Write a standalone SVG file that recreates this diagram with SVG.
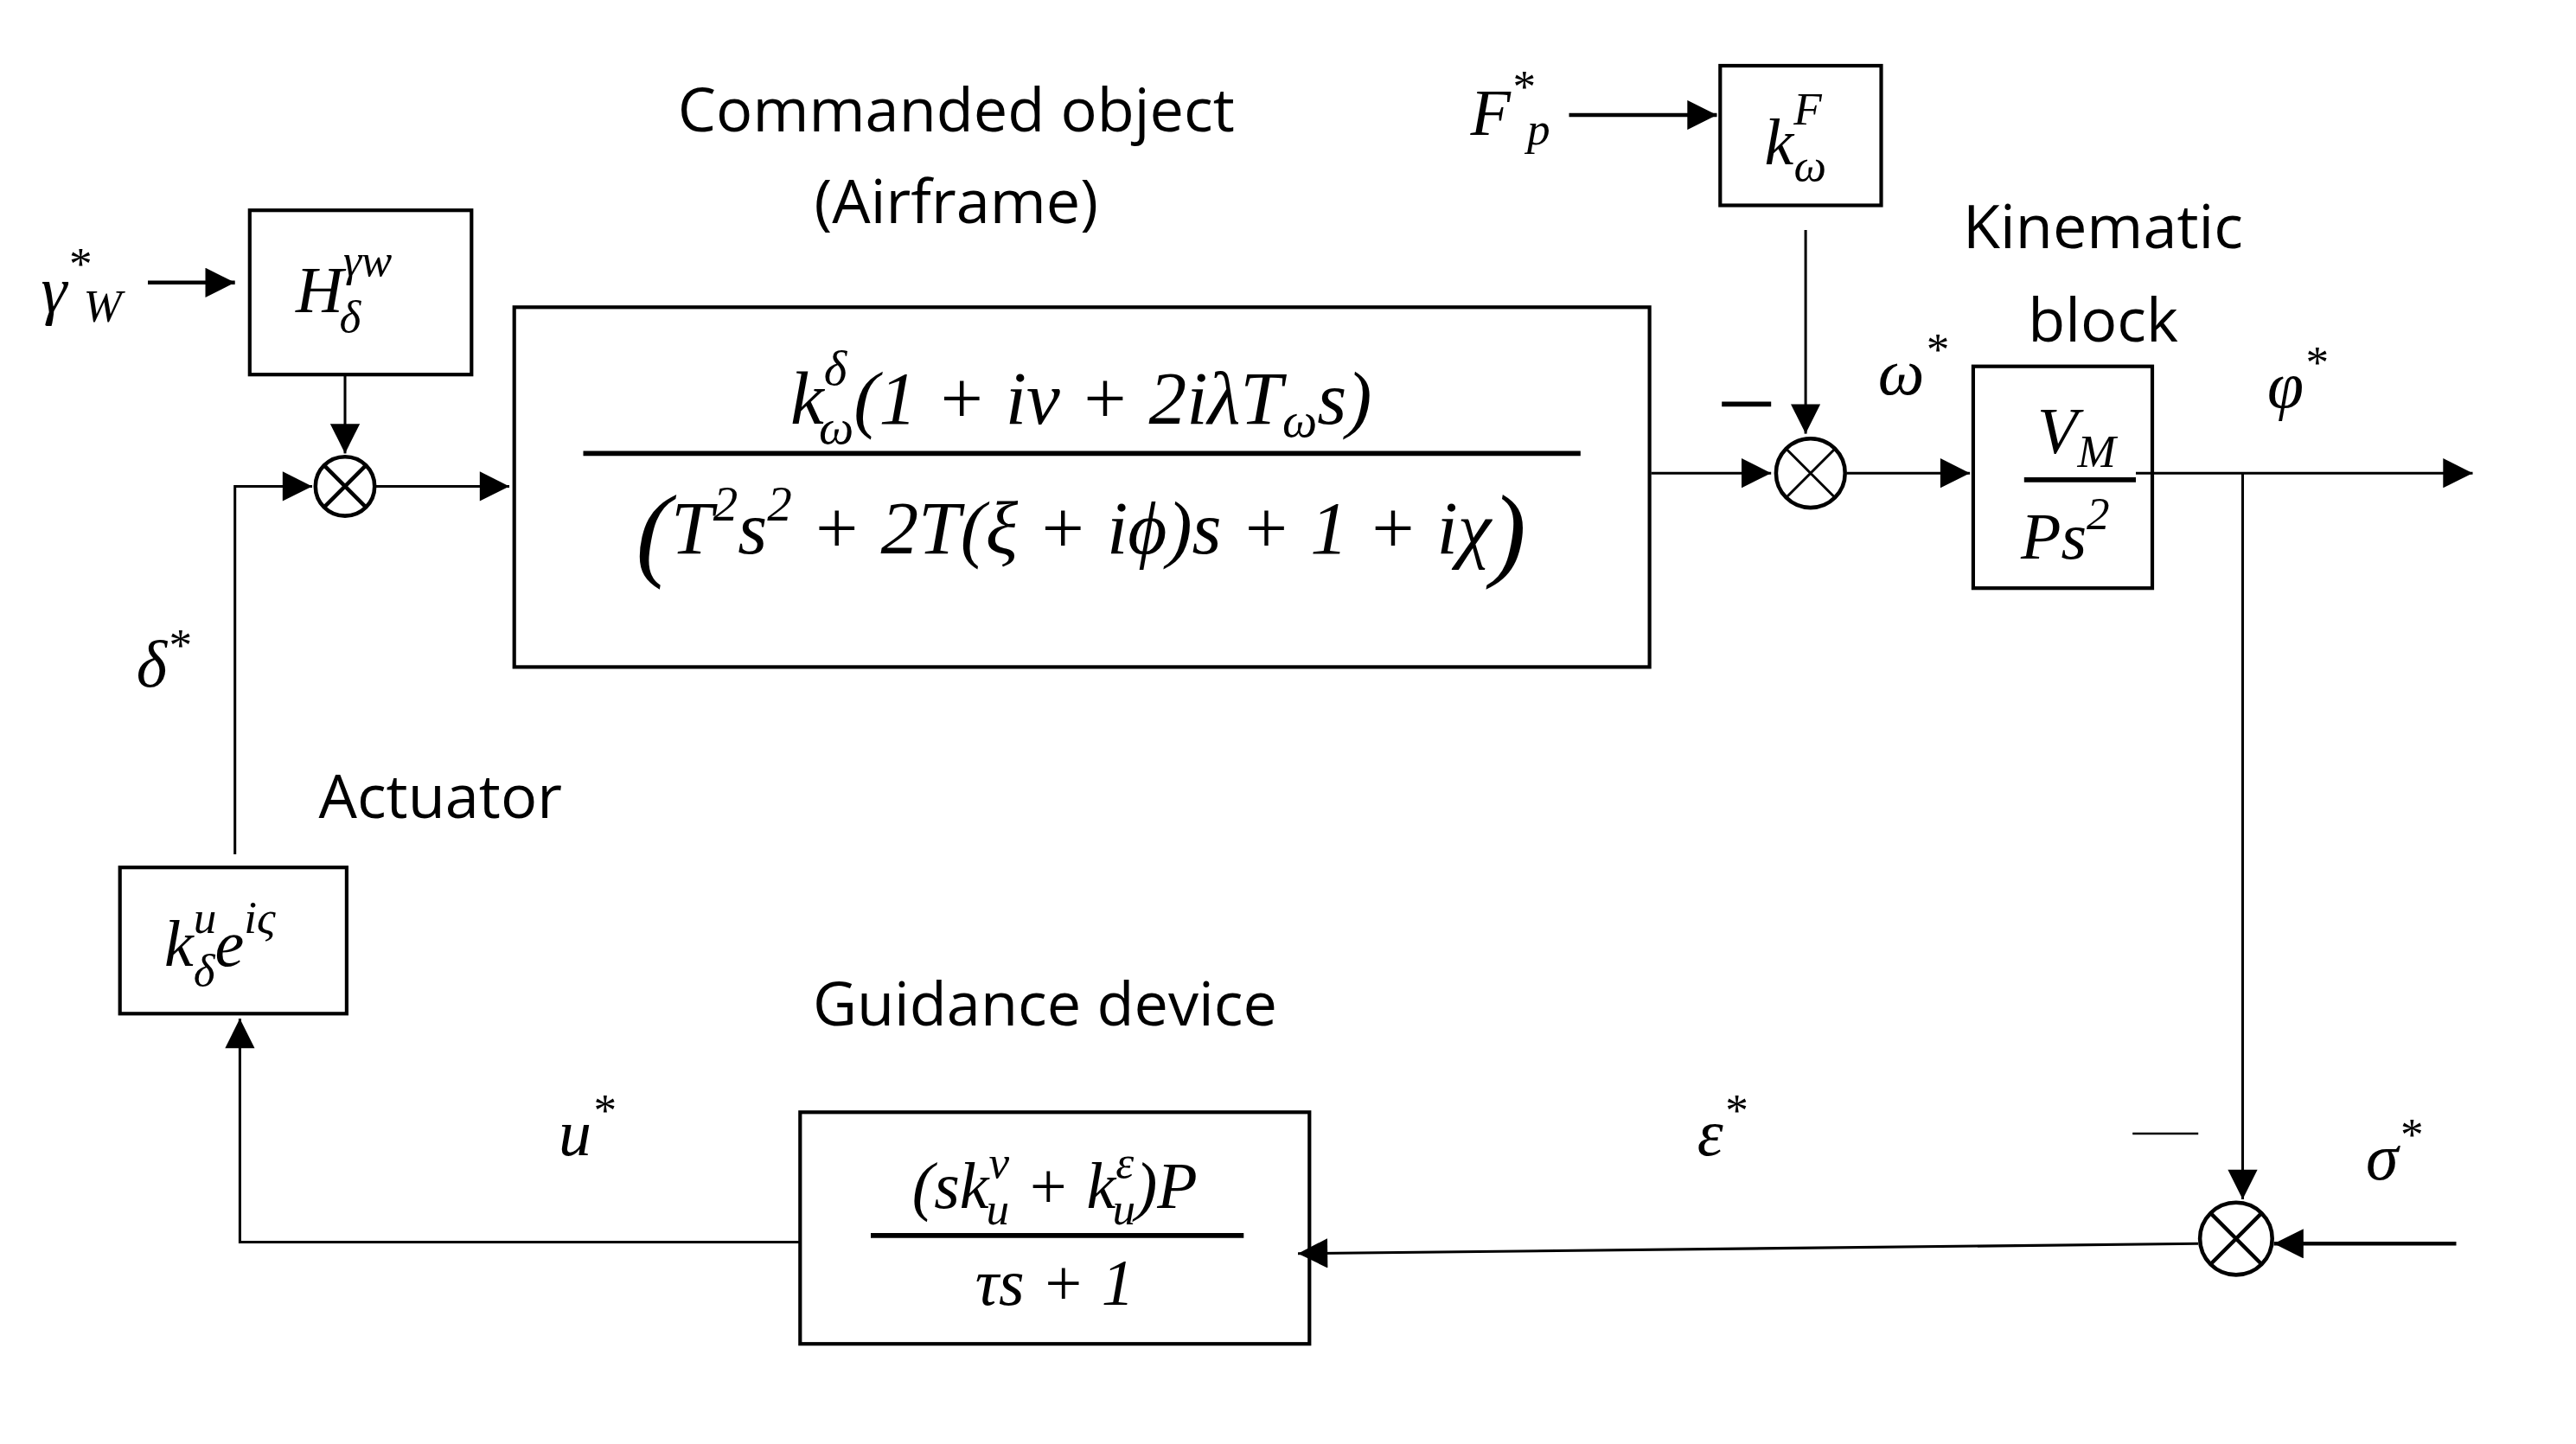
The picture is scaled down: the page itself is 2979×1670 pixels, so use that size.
<svg xmlns="http://www.w3.org/2000/svg" width="2979" height="1670" viewBox="0 0 2979 1670">
<style>
.box{fill:none;stroke:#000;stroke-width:2.2}
.ln{fill:none;stroke:#000;stroke-width:1.6}
.lt{fill:none;stroke:#000;stroke-width:2.4}
.m{font-family:"Liberation Serif",serif;font-style:italic;fill:#000}
.t{font-family:"Open Sans","Liberation Sans",sans-serif;fill:#000;font-size:37px}
.sm{font-size:28px}
.sum{fill:#fff;stroke:#000;stroke-width:2.4}
</style>
<defs>
<marker id="a" viewBox="0 0 10 10" refX="10" refY="5" markerWidth="20" markerHeight="18" markerUnits="userSpaceOnUse" orient="auto"><path d="M0,0 L10,5 L0,10 z" fill="#000"/></marker>
</defs>
<rect width="2979" height="1670" fill="#fff"/>
<g transform="scale(1.9)">
<g id="connectors">
<path class="lt" d="M90,172 H143" marker-end="url(#a)"/>
<path class="ln" d="M210,228 V276" marker-end="url(#a)"/>
<path class="ln" d="M143,520 V296 H190" marker-end="url(#a)"/>
<path class="ln" d="M228,296 H310" marker-end="url(#a)"/>
<path class="ln" d="M1005,288 H1078" marker-end="url(#a)"/>
<path class="lt" d="M955,70 H1045" marker-end="url(#a)"/>
<path class="ln" d="M1099,140 V264" marker-end="url(#a)"/>
<path class="ln" d="M1124,288 H1199" marker-end="url(#a)"/>
<path class="ln" d="M1300,288 H1505" marker-end="url(#a)"/>
<path class="ln" d="M1365,288 V730" marker-end="url(#a)"/>
<path class="lt" d="M1495,757 H1384" marker-end="url(#a)"/>
<path class="ln" d="M1338,757 L790,763" marker-end="url(#a)"/>
<path class="ln" d="M487,756 H146 V620" marker-end="url(#a)"/>
<path d="M1048,246 H1078" stroke="#000" stroke-width="3"/>
<path d="M1298,690 H1338" stroke="#000" stroke-width="1.2"/>
</g>
<g id="sum1"><circle class="sum" cx="210" cy="296" r="18"/><path class="lt" d="M197,283 L223,309 M223,283 L197,309"/></g>
<g id="sum2"><circle class="sum" cx="1102" cy="288" r="21" stroke="#444"/><path class="ln" d="M1087,273 L1117,303 M1117,273 L1087,303"/></g>
<g id="sum3"><circle class="sum" cx="1361" cy="754" r="22"/><path class="lt" d="M1345,738 L1377,770 M1377,738 L1345,770"/></g>
<g id="H"><rect class="box" x="152" y="128" width="135" height="100"/>
<text class="m" x="180" y="190" font-size="40">H<tspan class="sm" dy="-22">γw</tspan><tspan class="sm" dx="-32" dy="34">δ</tspan></text></g>
<g id="airframe"><rect class="box" x="313" y="187" width="691" height="219"/>
<path d="M355,276 H962" stroke="#000" stroke-width="3"/>
<text class="m" x="658" y="258" font-size="46" text-anchor="middle">k<tspan font-size="30" dy="-24">δ</tspan><tspan font-size="30" dx="-17" dy="36">ω</tspan><tspan dy="-12">(1 + iν + 2iλT</tspan><tspan font-size="30" dy="8">ω</tspan><tspan dy="-8">s)</tspan></text>
<text class="m" x="658" y="337" font-size="46" text-anchor="middle"><tspan font-size="64" dy="8">(</tspan><tspan dy="-8">T</tspan><tspan font-size="30" dy="-20">2</tspan><tspan dy="20">s</tspan><tspan font-size="30" dy="-20">2</tspan><tspan dy="20"> + 2T(ξ + iϕ)s + 1 + iχ</tspan><tspan font-size="64" dy="8">)</tspan></text>
<text class="t" x="582" y="80" text-anchor="middle">Commanded object</text>
<text class="t" x="582" y="136" text-anchor="middle">(Airframe)</text></g>
<g id="kF"><rect class="box" x="1047" y="40" width="98" height="85"/>
<text class="m" x="1074" y="100" font-size="40">k<tspan class="sm" dy="-24">F</tspan><tspan class="sm" dx="-17" dy="34">ω</tspan></text></g>
<g id="kin"><rect class="box" x="1201" y="223" width="109" height="135"/>
<path d="M1232,292 H1300" stroke="#000" stroke-width="3"/>
<text class="m" x="1240" y="276" font-size="40">V<tspan class="sm" dy="8">M</tspan></text>
<text class="m" x="1230" y="340" font-size="40">Ps<tspan class="sm" dy="-18">2</tspan></text>
<text class="t" x="1280" y="151" text-anchor="middle">Kinematic</text>
<text class="t" x="1280" y="208" text-anchor="middle">block</text></g>
<g id="act"><rect class="box" x="73" y="528" width="138" height="89"/>
<text class="m" x="100" y="588" font-size="40">k<tspan class="sm" dy="-20">u</tspan><tspan class="sm" dx="-14" dy="32">δ</tspan><tspan dy="-12">e</tspan><tspan class="sm" dy="-20">iς</tspan></text>
<text class="t" x="268" y="498" text-anchor="middle">Actuator</text></g>
<g id="guid"><rect class="box" x="487" y="677" width="310" height="141"/>
<path d="M530,752 H757" stroke="#000" stroke-width="3"/>
<text class="m" x="642" y="735" font-size="40" text-anchor="middle">(sk<tspan class="sm" dy="-18">ν</tspan><tspan class="sm" dx="-14" dy="28">u</tspan><tspan dy="-10"> + k</tspan><tspan class="sm" dy="-18">ε</tspan><tspan class="sm" dx="-13" dy="28">u</tspan><tspan dy="-10">)P</tspan></text>
<text class="m" x="642" y="794" font-size="40" text-anchor="middle">τs + 1</text>
<text class="t" x="636" y="624" text-anchor="middle">Guidance device</text></g>
<g id="labels">
<text class="m" x="25" y="190" font-size="40">γ<tspan class="sm" dy="-20">*</tspan><tspan class="sm" dx="-4" dy="26">W</tspan></text>
<text class="m" x="895" y="82" font-size="40">F<tspan class="sm" dy="-20">*</tspan><tspan class="sm" dx="-4" dy="26">p</tspan></text>
<text class="m" x="1143" y="240" font-size="40">ω<tspan class="sm" dy="-18">*</tspan></text>
<text class="m" x="1380" y="248" font-size="40">φ<tspan class="sm" dy="-18">*</tspan></text>
<text class="m" x="83" y="418" font-size="40">δ<tspan class="sm" dy="-16">*</tspan></text>
<text class="m" x="340" y="703" font-size="40">u<tspan class="sm" dy="-18">*</tspan></text>
<text class="m" x="1033" y="703" font-size="40">ε<tspan class="sm" dy="-18">*</tspan></text>
<text class="m" x="1440" y="718" font-size="40">σ<tspan class="sm" dy="-18">*</tspan></text>
</g>
</g>
</svg>
